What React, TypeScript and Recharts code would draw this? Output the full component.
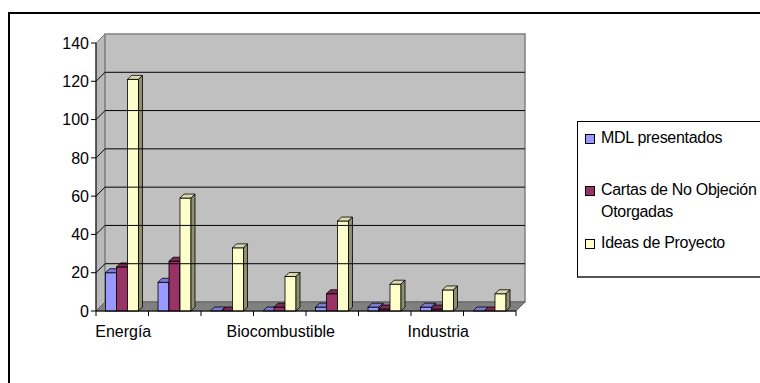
import {
  BarChart,
  Bar,
  XAxis,
  YAxis,
  ReferenceArea,
  ReferenceLine,
  Legend,
} from 'recharts';

// category labels as printed under the axis (Excel skipped every other label)
const categories = ['Energía', '', '', 'Biocombustible', '', '', 'Industria', ''];
const mdlPresentados = [20, 15, 0, 0, 2, 2, 2, 0];
const cartasNoObjecion = [23, 26, 0, 2, 9, 1, 1, 0];
const ideasProyecto = [121, 59, 33, 18, 47, 14, 11, 9];
const yTicks = [0, 20, 40, 60, 80, 100, 120, 140];

const series = [
  { key: 'mdl', name: 'MDL presentados', front: '#9999ff', top: '#7b7bd6', side: '#5f5fa3' },
  { key: 'cartas', name: 'Cartas de No Objeción Otorgadas', front: '#993366', top: '#7d2a53', side: '#5e1f3f' },
  { key: 'ideas', name: 'Ideas de Proyecto', front: '#ffffcc', top: '#d9d9ad', side: '#8f8f70' },
];

const data = categories.map((name, i) => ({
  id: i,
  name,
  mdl: mdlPresentados[i],
  cartas: cartasNoObjecion[i],
  ideas: ideasProyecto[i],
}));

const FONT = '"Liberation Sans", Arial, sans-serif';
const DEPTH = 9; // depth of the 3d walls
const BAR_DEPTH = 4;

// back wall, left side wall and floor of the 3d plot
const Walls = (props: any) => {
  const { x, y, width, height } = props;
  const d = DEPTH;
  const b = y + height;
  return (
    <g>
      <polygon
        points={`${x},${y} ${x + d},${y - d} ${x + d},${b - d} ${x},${b}`}
        fill="#b9b9b9"
        stroke="#808080"
        strokeWidth={1}
      />
      <rect x={x + d} y={y - d} width={width} height={height} fill="#c0c0c0" stroke="#808080" strokeWidth={1.5} />
      <polygon
        points={`${x},${b} ${x + d},${b - d} ${x + width + d},${b - d} ${x + width},${b}`}
        fill="#808080"
        stroke="#606060"
        strokeWidth={1}
      />
    </g>
  );
};

// grid line running up the side wall and across the back wall
const GridLine = (props: any) => {
  const { x1, y1, x2, y2 } = props;
  const d = DEPTH;
  return (
    <polyline
      points={`${x1},${y1} ${x1 + d},${y1 - d} ${x2 + d},${y2 - d}`}
      fill="none"
      stroke="#000"
      strokeWidth={1}
    />
  );
};

const make3dBar = (s: typeof series[number]) => (props: any) => {
  const { x, y, width, height } = props;
  const d = BAR_DEPTH;
  const h = Math.max(height, 0);
  return (
    <g>
      <rect x={x} y={y} width={width} height={h} fill={s.front} stroke="#000" strokeWidth={0.8} />
      <polygon
        points={`${x},${y} ${x + d},${y - d} ${x + width + d},${y - d} ${x + width},${y}`}
        fill={s.top}
        stroke="#000"
        strokeWidth={0.8}
      />
      <polygon
        points={`${x + width},${y} ${x + width + d},${y - d} ${x + width + d},${y + h - d} ${x + width},${y + h}`}
        fill={s.side}
        stroke="#000"
        strokeWidth={0.8}
      />
    </g>
  );
};

// label under the category, plus tick marks at the category boundaries
const CategoryTick = (props: any) => {
  const { x, y, payload, index, visibleTicksCount } = props;
  const half = payload.offset || 0;
  const axisY = y - 15;
  const label = categories[payload.value];
  return (
    <g>
      <line x1={x - half} y1={axisY} x2={x - half} y2={axisY + 5} stroke="#000" />
      {index === visibleTicksCount - 1 && (
        <line x1={x + half} y1={axisY} x2={x + half} y2={axisY + 5} stroke="#000" />
      )}
      {label && (
        <text x={x + 1} y={y} dy="0.71em" textAnchor="middle" fill="#000" fontSize={16} fontFamily={FONT}>
          {label}
        </text>
      )}
    </g>
  );
};

const legendTops = [126, 178, 231];

const LegendBox = () => (
  <div
    style={{
      position: 'relative',
      width: 220,
      height: 157,
      border: '1px solid #000',
      borderBottom: '2px solid #555',
      background: '#fff',
      boxSizing: 'border-box',
      fontFamily: FONT,
      fontSize: 16,
      lineHeight: '22px',
      color: '#000',
      letterSpacing: -0.3,
    }}
  >
    {series.map((s, i) => (
      <div key={s.key} style={{ position: 'absolute', left: 7, top: legendTops[i] - 121, display: 'flex' }}>
        <span
          style={{
            width: 8,
            height: 8,
            marginTop: 7,
            marginRight: 6,
            background: s.front,
            border: '1px solid #000',
            flex: 'none',
          }}
        />
        <span style={{ width: 172 }}>{s.name}</span>
      </div>
    ))}
  </div>
);

export default function App() {
  return (
    <div
      style={{
        position: 'absolute',
        left: 0,
        top: 0,
        width: 760,
        height: 383,
        overflow: 'hidden',
        background: '#fff',
      }}
    >
      <div
        style={{
          position: 'absolute',
          left: 8,
          top: 12,
          width: 820,
          height: 369,
          border: '2px solid #000',
        }}
      />
      <BarChart
        width={760}
        height={383}
        data={data}
        margin={{ top: 43, right: 244, bottom: 0, left: 0 }}
        barCategoryGap={9.5}
        barGap={0}
      >
        <ReferenceArea y1={0} y2={140} shape={<Walls />} ifOverflow="visible" />
        {yTicks.slice(1, -1).map((v) => (
          <ReferenceLine key={v} y={v} shape={<GridLine />} ifOverflow="visible" />
        ))}
        <XAxis
          dataKey="id"
          type="category"
          height={72}
          interval={0}
          tickLine={false}
          tickSize={5}
          tickMargin={10}
          axisLine={{ stroke: '#000', strokeWidth: 1 }}
          tick={<CategoryTick />}
        />
        <YAxis
          width={96}
          domain={[0, 140]}
          ticks={yTicks}
          interval={0}
          tickSize={5}
          tickMargin={2}
          axisLine={{ stroke: '#000', strokeWidth: 1 }}
          tickLine={{ stroke: '#000' }}
          tick={{ fill: '#000', fontSize: 16, fontFamily: FONT }}
        />
        <Legend
          layout="horizontal"
          verticalAlign="middle"
          align="center"
          wrapperStyle={{ left: 577, top: 121, width: 220, height: 157 }}
          content={() => <LegendBox />}
        />
        {series.map((s) => (
          <Bar
            key={s.key}
            dataKey={s.key}
            name={s.name}
            fill={s.front}
            shape={make3dBar(s)}
            isAnimationActive={false}
          />
        ))}
      </BarChart>
    </div>
  );
}
